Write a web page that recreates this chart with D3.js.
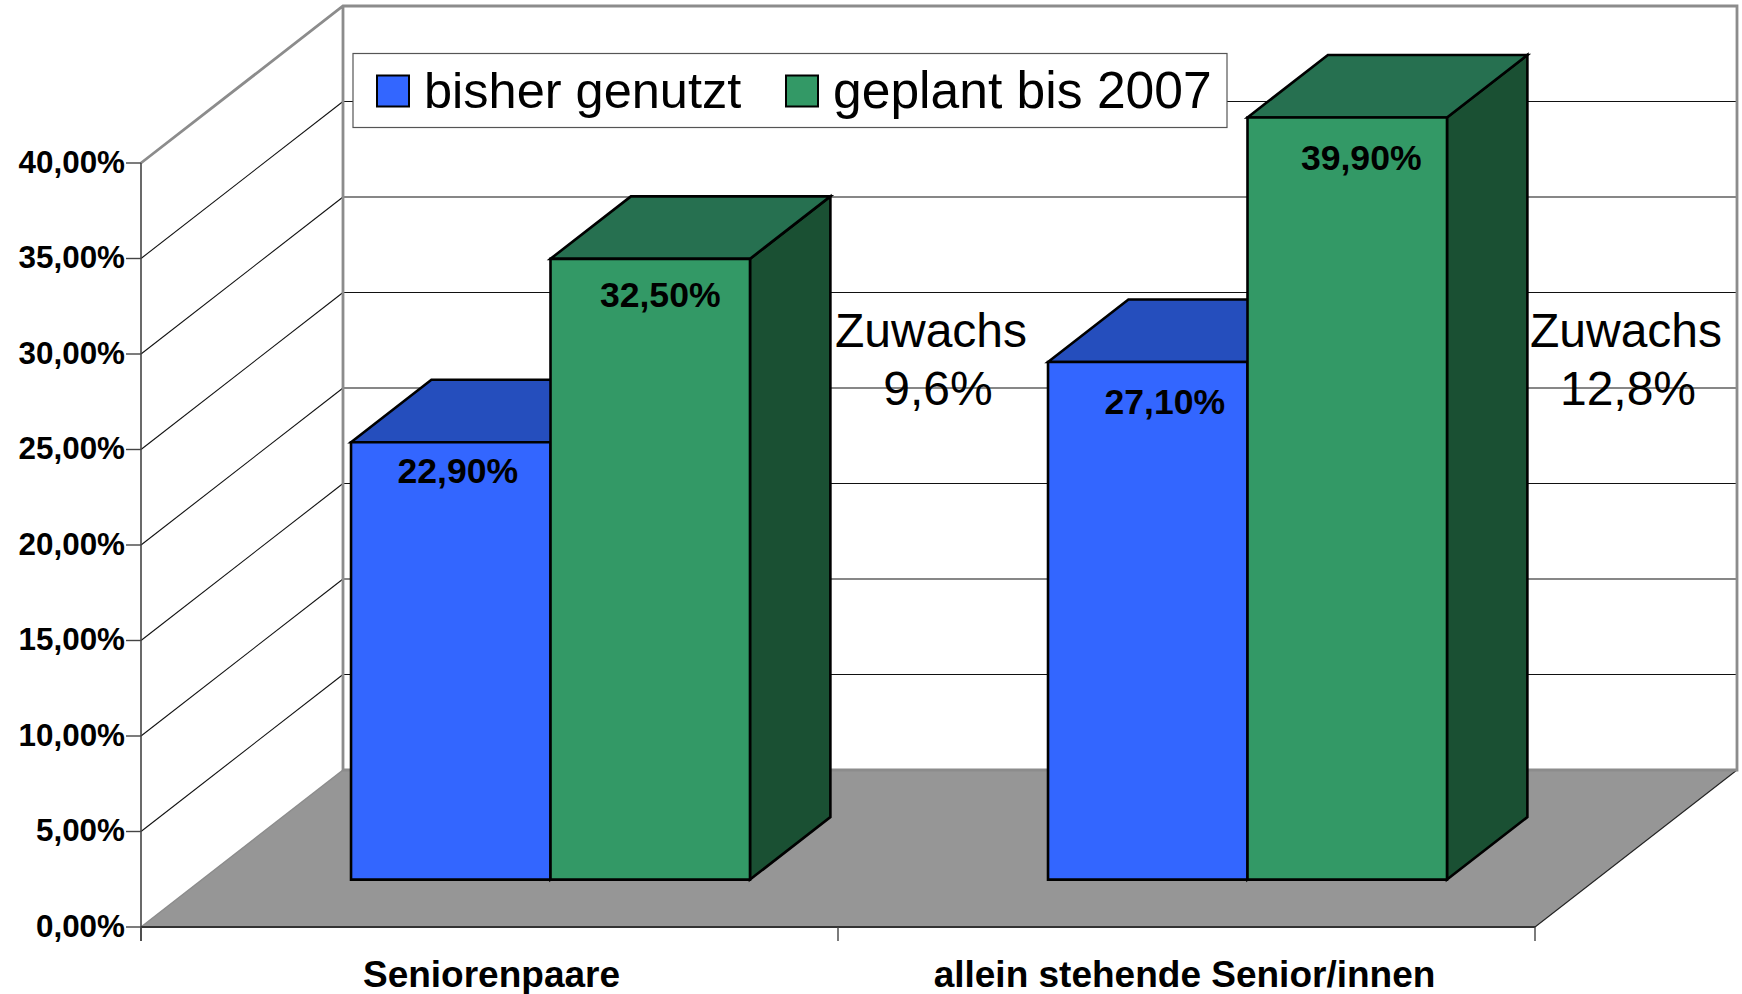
<!DOCTYPE html>
<html><head><meta charset="utf-8">
<script src="https://cdn.jsdelivr.net/npm/d3@7"></script>
<style>html,body{margin:0;padding:0;background:#fff;overflow:hidden}svg{display:block}text{font-family:"Liberation Sans",Arial,sans-serif;fill:#000}</style>
</head><body><svg id="c" width="1742" height="994"></svg>
<script>
const categories = ["Seniorenpaare", "allein stehende Senior/innen"];
const seriesNames = ["bisher genutzt", "geplant bis 2007"];
const bisherGenutzt = [22.9, 27.1];
const geplantBis2007 = [32.5, 39.9];
const valueLabels = [["22,90%", "27,10%"], ["32,50%", "39,90%"]];
const yTicks = [0, 5, 10, 15, 20, 25, 30, 35, 40];
const yTickLabels = ["0,00%", "5,00%", "10,00%", "15,00%", "20,00%", "25,00%", "30,00%", "35,00%", "40,00%"];
const growthLabels = [["Zuwachs", "9,6%"], ["Zuwachs", "12,8%"]];

const faces = [
  {front: "#3366ff", top: "#254ebd", side: "#1a3a8c"},
  {front: "#339966", top: "#267050", side: "#1a5033"}
];
const svg = d3.select("#c");
const x = d3.scaleBand().domain(categories).range([141, 1535]);
const inner = d3.scaleBand().domain([0, 1]).range([0, x.bandwidth()]).paddingOuter(0.747).paddingInner(0);
const y = d3.scaleLinear().domain([0, 40]).range([927, 163]);
const dX = d3.scaleLinear().domain([0, 1]).range([0, 202]);
const dY = d3.scaleLinear().domain([0, 1]).range([0, -157]);
const P = (px, v, z) => [px + dX(z), y(v) + dY(z)];
const poly = pts => "M" + pts.map(p => p.join(",")).join("L") + "Z";
const x0 = x.range()[0], x1 = x.range()[1];

// back wall grid
yTicks.filter(t => t > 0 && t < 40).forEach(t => {
  svg.append("line").attr("x1", P(x0, t, 1)[0]).attr("y1", P(x0, t, 1)[1]).attr("x2", P(x1, t, 1)[0]).attr("y2", P(x1, t, 1)[1])
    .attr("stroke", "#111").attr("stroke-width", 1.1);
  svg.append("line").attr("x1", P(x0, t, 0)[0]).attr("y1", P(x0, t, 0)[1]).attr("x2", P(x0, t, 1)[0]).attr("y2", P(x0, t, 1)[1])
    .attr("stroke", "#111").attr("stroke-width", 1.1);
});
// floor
svg.append("path").attr("d", poly([P(x0,0,0), P(x0,0,1), P(x1,0,1), P(x1,0,0)])).attr("fill", "#969696");
svg.append("line").attr("x1", P(x1,0,0)[0]).attr("y1", P(x1,0,0)[1]).attr("x2", P(x1,0,1)[0]).attr("y2", P(x1,0,1)[1]).attr("stroke", "#222").attr("stroke-width", 1.1);
// wall outline
const wall = "#8c8c8c";
svg.append("path").attr("d", "M" + [P(x0,40,0), P(x0,40,1), P(x1,40,1), P(x1,0,1), P(x0,0,1), P(x0,40,1)].map(p => p.join(",")).join("L"))
  .attr("fill", "none").attr("stroke", wall).attr("stroke-width", 2.8);
svg.append("path").attr("d", "M" + P(x0,0,1).join(",") + "L" + P(x0,0,0).join(",")).attr("stroke", wall).attr("stroke-width", 1.5).attr("fill","none");
// front axes
const axisC = "#444";
svg.append("line").attr("x1", x0).attr("x2", x0).attr("y1", y(40)).attr("y2", y(0) + 14).attr("stroke", axisC).attr("stroke-width", 1.6);
svg.append("line").attr("x1", x0).attr("x2", x1).attr("y1", y(0)).attr("y2", y(0)).attr("stroke", "#333").attr("stroke-width", 2);
yTicks.forEach((t, i) => {
  svg.append("line").attr("x1", x0 - 15).attr("x2", x0).attr("y1", y(t)).attr("y2", y(t)).attr("stroke", axisC).attr("stroke-width", 1.4);
  svg.append("text").attr("x", 125).attr("y", y(t) + 9.5).attr("text-anchor", "end").attr("font-size", 31.4).attr("font-weight", "bold").text(yTickLabels[i]);
});
[x0, x0 + x.bandwidth(), x1].forEach(px => {
  svg.append("line").attr("x1", px).attr("x2", px).attr("y1", y(0)).attr("y2", y(0) + 14).attr("stroke", axisC).attr("stroke-width", 1.4);
});
const catNudge = [2, -2];
categories.forEach((c, i) => {
  svg.append("text").attr("x", x(c) + x.bandwidth() / 2 + catNudge[i]).attr("y", 987).attr("text-anchor", "middle").attr("font-size", 37).attr("font-weight", "bold").text(c);
});
// bars
const zA = 0.302, zB = 0.70;
const drawBar = (c, s, v) => {
  const l = x(c) + inner(s), r = l + inner.bandwidth();
  const g = svg.append("g").attr("stroke", "#000").attr("stroke-width", 2.6).attr("stroke-linejoin", "miter");
  g.append("path").attr("d", poly([P(r,0,zA), P(r,0,zB), P(r,v,zB), P(r,v,zA)])).attr("fill", faces[s].side);
  g.append("path").attr("d", poly([P(l,v,zA), P(l,v,zB), P(r,v,zB), P(r,v,zA)])).attr("fill", faces[s].top);
  g.append("path").attr("d", poly([P(l,0,zA), P(r,0,zA), P(r,v,zA), P(l,v,zA)])).attr("fill", faces[s].front);
};
categories.forEach((c, i) => { drawBar(c, 0, bisherGenutzt[i]); drawBar(c, 1, geplantBis2007[i]); });
// value labels
const nudgeX = [[7, 17], [10, 14]], nudgeY = [[41, 52], [48, 53]];
[bisherGenutzt, geplantBis2007].forEach((vals, s) => vals.forEach((v, i) => {
  const c = categories[i], l = x(c) + inner(s);
  svg.append("text").attr("x", P(l + inner.bandwidth() / 2, v, zA)[0] + nudgeX[s][i]).attr("y", P(l, v, zA)[1] + nudgeY[s][i])
    .attr("text-anchor", "middle").attr("font-size", 35.6).attr("font-weight", "bold").text(valueLabels[s][i]);
}));
// growth labels
const growthX = [[931, 938], [1626, 1628]];
growthLabels.forEach((ls, i) => ls.forEach((t, j) => {
  svg.append("text").attr("x", growthX[i][j]).attr("y", 347 + j * 58).attr("text-anchor", "middle").attr("font-size", 48).text(t);
}));
// legend
svg.append("rect").attr("x", 353).attr("y", 53.5).attr("width", 874).attr("height", 74).attr("fill", "#fff").attr("stroke", "#555").attr("stroke-width", 1.2);
const legX = [377, 786], legSize = [50.5, 51.6];
seriesNames.forEach((n, i) => {
  svg.append("rect").attr("x", legX[i]).attr("y", 75.5).attr("width", 32).attr("height", 31).attr("fill", faces[i].front).attr("stroke", "#000").attr("stroke-width", 2);
  svg.append("text").attr("x", legX[i] + 47).attr("y", 108).attr("font-size", legSize[i]).text(n);
});
</script></body></html>
